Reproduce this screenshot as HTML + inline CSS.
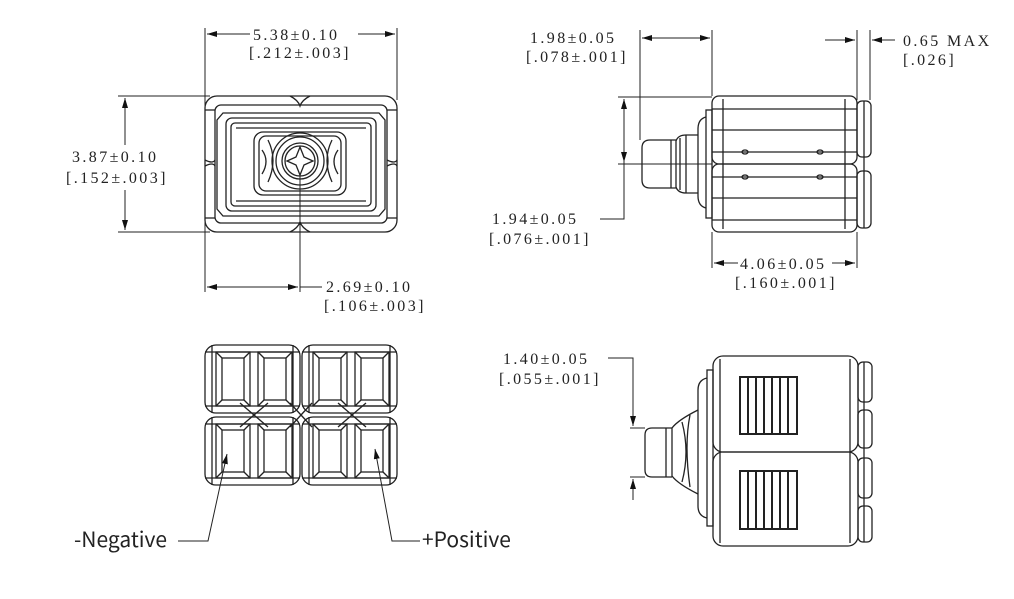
<!DOCTYPE html>
<html><head><meta charset="utf-8"><style>
html,body{margin:0;padding:0;background:#fff;}
svg{display:block}
.d{font-family:"Liberation Serif","Noto Serif CJK SC",serif;font-size:16px;fill:#222;letter-spacing:2.4px}
.l{font-family:"Noto Sans CJK SC","Liberation Sans",sans-serif;font-size:21px;fill:#222}
</style></head><body>
<svg width="1014" height="599" viewBox="0 0 1014 599" xmlns="http://www.w3.org/2000/svg">
<defs>
<marker id="a" viewBox="0 0 10 6" refX="10" refY="3" markerWidth="10" markerHeight="6" orient="auto-start-reverse" markerUnits="userSpaceOnUse"><path d="M0,0L10,3L0,6z" fill="#111"/></marker>
</defs>
<g fill="none" stroke="#222" stroke-width="1.3">
<!-- ===== Top-left view ===== -->
<rect x="205" y="96" width="192" height="136" rx="12"/>
<rect x="215" y="105" width="172" height="118" rx="6"/>
<line x1="205" y1="110" x2="215" y2="110"/><line x1="387" y1="110" x2="397" y2="110"/>
<line x1="205" y1="218" x2="215" y2="218"/><line x1="387" y1="218" x2="397" y2="218"/>
<path d="M205,160 q8,4 10,0 M205,166 q8,-4 10,0 M387,160 q8,4 10,0 M387,166 q8,-4 10,0"/>
<path d="M290,96 q8,4 10,10 q2,-6 10,-10 M290,232 q8,-4 10,-10 q2,6 10,10"/>
<path d="M223,113 L379,113 L385,120 L385,209 L379,216 L223,216 L217,209 L217,120 Z"/>
<rect x="226" y="118" width="150" height="93" rx="6"/>
<rect x="231" y="123" width="140" height="83" rx="4"/>
<line x1="236" y1="128" x2="366" y2="128"/><line x1="236" y1="201" x2="366" y2="201"/>
<rect x="254" y="132" width="92" height="63" rx="9"/>
<rect x="259" y="136" width="82" height="55" rx="7"/>
<circle cx="300" cy="161" r="28"/><circle cx="300" cy="161" r="24"/><circle cx="300" cy="161" r="18"/><circle cx="300" cy="161" r="15"/>
<path d="M300,147 L304,157 L313,161 L304,165 L300,175 L296,165 L287,161 L296,157 Z"/>
<path d="M268,140 q10,20 0,42 M332,140 q-10,20 0,42 M262,150 q8,11 0,24 M338,150 q-8,11 0,24"/>
<!-- dims top-left -->
<line x1="205" y1="28" x2="205" y2="292" stroke-width="1"/>
<line x1="397" y1="28" x2="397" y2="100" stroke-width="1"/>
<line x1="300" y1="232" x2="300" y2="292" stroke-width="1"/>
<line x1="300" y1="175" x2="300" y2="232" stroke-width="1"/>
<line x1="207" y1="34" x2="250" y2="34" marker-start="url(#a)" stroke-width="1"/>
<line x1="358" y1="34" x2="395" y2="34" marker-end="url(#a)" stroke-width="1"/>
<line x1="118" y1="96" x2="210" y2="96" stroke-width="1"/>
<line x1="118" y1="232" x2="210" y2="232" stroke-width="1"/>
<line x1="125" y1="98" x2="125" y2="145" marker-start="url(#a)" stroke-width="1"/>
<line x1="125" y1="190" x2="125" y2="230" marker-end="url(#a)" stroke-width="1"/>
<line x1="207" y1="287" x2="298" y2="287" marker-start="url(#a)" marker-end="url(#a)" stroke-width="1"/>
<line x1="300" y1="287" x2="322" y2="287" stroke-width="1"/>
<!-- ===== Top-right view ===== -->
<rect x="712" y="96" width="145" height="68" rx="7"/>
<rect x="712" y="164" width="145" height="68" rx="7"/>
<line x1="712" y1="109" x2="857" y2="109"/><line x1="712" y1="130" x2="857" y2="130"/><line x1="712" y1="152" x2="857" y2="152"/>
<line x1="712" y1="177" x2="857" y2="177"/><line x1="712" y1="198" x2="857" y2="198"/><line x1="712" y1="220" x2="857" y2="220"/>
<line x1="723" y1="99" x2="723" y2="229"/><line x1="845" y1="99" x2="845" y2="229"/>
<ellipse cx="745" cy="152" rx="3" ry="2"/><ellipse cx="820" cy="152" rx="3" ry="2"/>
<ellipse cx="745" cy="177" rx="3" ry="2"/><ellipse cx="820" cy="177" rx="3" ry="2"/>
<rect x="857" y="101" width="14" height="56" rx="5"/><rect x="857" y="171" width="14" height="57" rx="5"/>
<line x1="864" y1="101" x2="864" y2="228"/>
<rect x="706" y="110" width="6" height="108"/>
<path d="M706,117 q-8,2 -8,12 L698,196 q0,10 8,12"/>
<path d="M698,135 L686,135 q-8,0 -10,6 L676,187 q2,6 10,6 L698,193"/>
<line x1="686" y1="135" x2="686" y2="193"/><line x1="680" y1="138" x2="680" y2="190"/>
<path d="M676,140 L650,140 q-8,0 -8,8 L642,180 q0,8 8,8 L676,188"/>
<line x1="671" y1="140" x2="671" y2="188"/>
<!-- dims top-right -->
<line x1="640" y1="30" x2="640" y2="140" stroke-width="1"/>
<line x1="712" y1="30" x2="712" y2="96" stroke-width="1"/>
<line x1="642" y1="38" x2="710" y2="38" marker-start="url(#a)" marker-end="url(#a)" stroke-width="1"/>
<line x1="857" y1="30" x2="857" y2="100" stroke-width="1"/>
<line x1="870" y1="30" x2="870" y2="100" stroke-width="1"/>
<line x1="825" y1="40" x2="855" y2="40" marker-end="url(#a)" stroke-width="1"/>
<line x1="895" y1="40" x2="872" y2="40" marker-end="url(#a)" stroke-width="1"/>
<line x1="618" y1="97" x2="712" y2="97" stroke-width="1"/>
<line x1="618" y1="164" x2="712" y2="164" stroke-width="1"/>
<line x1="624" y1="99" x2="624" y2="162" marker-start="url(#a)" marker-end="url(#a)" stroke-width="1"/>
<polyline points="624,162 624,219 600,219" stroke-width="1"/>
<line x1="712" y1="232" x2="712" y2="268" stroke-width="1"/>
<line x1="857" y1="232" x2="857" y2="268" stroke-width="1"/>
<line x1="714" y1="263" x2="738" y2="263" marker-start="url(#a)" stroke-width="1"/>
<line x1="832" y1="263" x2="855" y2="263" marker-end="url(#a)" stroke-width="1"/>
<!-- ===== Bottom-right view ===== -->
<rect x="713" y="356" width="145" height="96" rx="10"/>
<rect x="713" y="452" width="145" height="94" rx="10"/>
<line x1="720" y1="359" x2="720" y2="543"/><line x1="850" y1="359" x2="850" y2="543"/>
<rect x="740" y="377" width="57" height="57" stroke-width="2"/>
<rect x="740" y="471" width="57" height="58" stroke-width="2"/>
<g stroke-width="2"><line x1="748" y1="377" x2="748" y2="434"/><line x1="756" y1="377" x2="756" y2="434"/><line x1="764" y1="377" x2="764" y2="434"/><line x1="772" y1="377" x2="772" y2="434"/><line x1="780" y1="377" x2="780" y2="434"/><line x1="788" y1="377" x2="788" y2="434"/>
<line x1="748" y1="471" x2="748" y2="529"/><line x1="756" y1="471" x2="756" y2="529"/><line x1="764" y1="471" x2="764" y2="529"/><line x1="772" y1="471" x2="772" y2="529"/><line x1="780" y1="471" x2="780" y2="529"/><line x1="788" y1="471" x2="788" y2="529"/></g>
<rect x="858" y="362" width="14" height="40" rx="5"/><rect x="858" y="410" width="14" height="38" rx="5"/>
<rect x="858" y="458" width="14" height="40" rx="5"/><rect x="858" y="506" width="14" height="36" rx="5"/>
<line x1="864" y1="362" x2="864" y2="542"/>
<rect x="707" y="370" width="6" height="156"/>
<path d="M707,378 q-9,2 -9,12 L698,506 q0,10 9,12"/>
<path d="M698,410 q-20,10 -26,18 L672,476 q6,8 26,18"/>
<path d="M690,415 q-6,30 0,72 M682,422 q8,30 0,60"/>
<path d="M672,428 L652,428 q-7,0 -7,7 L645,470 q0,7 7,7 L672,477"/>
<line x1="666" y1="428" x2="666" y2="477"/>
<!-- dims bottom-right -->
<polyline points="608,358 633,358 633,426" stroke-width="1" marker-end="url(#a)"/>
<line x1="633" y1="500" x2="633" y2="479" stroke-width="1" marker-end="url(#a)"/>
<line x1="630" y1="428" x2="645" y2="428" stroke-width="1"/>
<line x1="630" y1="477" x2="645" y2="477" stroke-width="1"/>
<!-- ===== Bottom-left view ===== -->
<g id="q">
<rect x="205" y="345" width="95" height="68" rx="11"/>
<line x1="205" y1="352" x2="300" y2="352"/><line x1="205" y1="406" x2="300" y2="406"/>
<line x1="212" y1="345" x2="212" y2="413"/><line x1="293" y1="345" x2="293" y2="413"/>
<rect x="216" y="352" width="34" height="54"/><rect x="222" y="358" width="22" height="42"/>
<line x1="216" y1="352" x2="222" y2="358"/><line x1="250" y1="352" x2="244" y2="358"/><line x1="216" y1="406" x2="222" y2="400"/><line x1="250" y1="406" x2="244" y2="400"/>
<rect x="258" y="352" width="34" height="54"/><rect x="264" y="358" width="22" height="42"/>
<line x1="258" y1="352" x2="264" y2="358"/><line x1="292" y1="352" x2="286" y2="358"/><line x1="258" y1="406" x2="264" y2="400"/><line x1="292" y1="406" x2="286" y2="400"/>
</g>
<use href="#q" x="97" y="0"/>
<use href="#q" x="0" y="72"/>
<use href="#q" x="97" y="72"/>
<path d="M240,403 L268,427 M268,403 L240,427 M338,403 L366,427 M366,403 L338,427 M290,403 L312,427 M312,403 L290,427"/>
<!-- labels leaders -->
<polyline points="178,541 208,541 227,454" stroke-width="1" marker-end="url(#a)"/>
<polyline points="420,541 392,541 375,449" stroke-width="1" marker-end="url(#a)"/>
</g>
<text class="d" x="253" y="40">5.38±0.10</text>
<text class="d" x="249" y="58">[.212±.003]</text>
<text class="d" x="72" y="162">3.87±0.10</text>
<text class="d" x="66" y="183">[.152±.003]</text>
<text class="d" x="326" y="292">2.69±0.10</text>
<text class="d" x="324" y="311">[.106±.003]</text>
<text class="d" x="530" y="43">1.98±0.05</text>
<text class="d" x="526" y="62">[.078±.001]</text>
<text class="d" x="903" y="46">0.65 MAX</text>
<text class="d" x="903" y="65">[.026]</text>
<text class="d" x="492" y="224">1.94±0.05</text>
<text class="d" x="489" y="244">[.076±.001]</text>
<text class="d" x="740" y="269">4.06±0.05</text>
<text class="d" x="735" y="288">[.160±.001]</text>
<text class="d" x="503" y="364">1.40±0.05</text>
<text class="d" x="499" y="384">[.055±.001]</text>
<text class="l" x="74" y="547">-Negative</text>
<text class="l" x="422" y="547">+Positive</text>
</svg>
</body></html>
